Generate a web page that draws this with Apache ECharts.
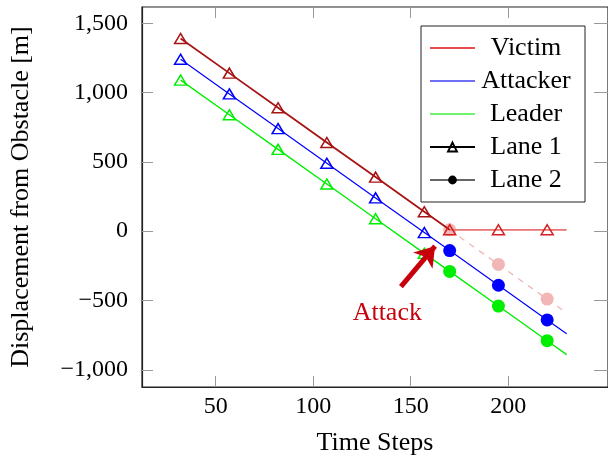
<!DOCTYPE html>
<html>
<head>
<meta charset="utf-8">
<script src="https://cdn.jsdelivr.net/npm/echarts@6/dist/echarts.min.js"></script>
<style>
  html, body { margin: 0; padding: 0; background: #fff; }
  #chart { width: 608px; height: 461px; }
</style>
</head>
<body>
<div id="chart"></div>
<script>
// time steps where the vehicles are sampled (last one is only the line end)
const timeSteps = [32, 57, 82, 107, 132, 157, 170, 195, 220, 230];
// 1 = lane 1 (triangle), 2 = lane 2 (dot), 0 = no marker
const laneMarks = [1, 1, 1, 1, 1, 1, 2, 2, 2, 0];

const victimBefore = [1390, 1140, 890, 640, 390, 140, 10];
const victimHeldSteps = [170, 195, 220, 230];
const victimHeld = [10, 10, 10, 10];
const victimExpected = [10, -240, -490, -590];
const attackerPos = [1240, 990, 740, 490, 240, -10, -140, -390, -640, -740];
const leaderPos = [1090, 840, 590, 340, 90, -160, -290, -540, -790, -890];

const xTicks = [50, 100, 150, 200];
const yTicks = [-1000, -500, 0, 500, 1000, 1500];
const attackArrow = [[145, -400], [162.5, -108]];
const attackLabelAt = [138, -592];

const FONT = '"Liberation Serif", "DejaVu Serif", serif';

function marker(lane, color) {
  if (lane === 1) {
    return { symbol: 'triangle', symbolSize: [12, 10],
      itemStyle: { color: 'transparent', borderColor: color, borderWidth: 1.5 } };
  }
  if (lane === 2) {
    return { symbol: 'circle', symbolSize: 13, itemStyle: { color: color, borderWidth: 0 } };
  }
  return { symbol: 'none' };
}

function points(steps, values, lanes, color) {
  return values.map((v, i) => Object.assign({ value: [steps[i], v] }, marker(lanes[i], color)));
}

const chart = echarts.init(document.getElementById('chart'));

const legendSeries = [
  { name: 'Victim', color: '#e01010', symbol: 'none', line: '#e01010' },
  { name: 'Attacker', color: '#4040f0', symbol: 'none', line: '#4040f0' },
  { name: 'Leader', color: '#40f040', symbol: 'none', line: '#40f040' },
  { name: 'Lane 1', color: '#000', symbol: 'triangle', line: '#000' },
  { name: 'Lane 2', color: '#000', symbol: 'circle', line: '#666' }
].map(s => ({
  name: s.name,
  type: 'line',
  data: [],
  symbol: s.symbol,
  itemStyle: s.symbol === 'triangle'
    ? { color: 'transparent', borderColor: '#000', borderWidth: 1.2 }
    : { color: s.color },
  lineStyle: { color: s.line, width: 1.3 }
}));

const lineIcon = 'path://M0,0H45V1.4H0Z';

const tickStyle = { inside: true, length: 11, lineStyle: { color: '#999' } };

chart.setOption({
  animation: false,
  backgroundColor: '#fff',
  grid: { left: 142, right: -3, top: 7, bottom: 68, show: true, borderColor: '#222', borderWidth: 1.2 },
  legend: {
    orient: 'vertical',
    left: 421,
    top: 26,
    padding: [9, 13, 9, 8],
    itemWidth: 45,
    itemHeight: 11,
    itemGap: 7,
    borderColor: '#222',
    borderWidth: 1,
    backgroundColor: '#fff',
    data: [
      { name: 'Victim', icon: lineIcon },
      { name: 'Attacker', icon: lineIcon },
      { name: 'Leader', icon: lineIcon },
      { name: 'Lane 1' },
      { name: 'Lane 2' }
    ],
    formatter: name => '{t|' + name + '}',
    textStyle: {
      rich: { t: { width: 92, align: 'center', fontSize: 26, lineHeight: 26, fontFamily: FONT, color: '#000' } }
    },
    selectedMode: false
  },
  xAxis: [{
    type: 'value', min: 12.2, max: 251.2, position: 'bottom',
    name: 'Time Steps', nameLocation: 'middle', nameGap: 43,
    nameTextStyle: { fontSize: 26, fontFamily: FONT, color: '#000' },
    axisLine: { show: true, onZero: false, lineStyle: { color: '#222', width: 1.2 } },
    axisTick: Object.assign({ customValues: xTicks }, tickStyle),
    axisLabel: { customValues: xTicks, margin: 8, fontSize: 24, fontFamily: FONT, color: '#000' },
    splitLine: { show: false }
  }, {
    type: 'value', min: 12.2, max: 251.2, position: 'top',
    axisLine: { show: false, onZero: false },
    axisTick: Object.assign({ customValues: xTicks }, tickStyle),
    axisLabel: { show: false },
    splitLine: { show: false }
  }],
  yAxis: [{
    type: 'value', min: -1124, max: 1617, position: 'left',
    name: 'Displacement from Obstacle [m]', nameLocation: 'middle', nameGap: 108,
    nameTextStyle: { fontSize: 26, fontFamily: FONT, color: '#000' },
    axisLine: { show: true, onZero: false, lineStyle: { color: '#222', width: 1.2 } },
    axisTick: Object.assign({ customValues: yTicks }, tickStyle),
    axisLabel: {
      customValues: yTicks, margin: 14, fontSize: 24, fontFamily: FONT, color: '#000',
      formatter: v => (v < 0 ? '\u2212' : '') + Math.abs(v).toLocaleString('en-US')
    },
    splitLine: { show: false }
  }, {
    type: 'value', min: -1124, max: 1617, position: 'right',
    axisLine: { show: false, onZero: false },
    axisTick: Object.assign({ customValues: yTicks }, tickStyle, { length: 14 }),
    axisLabel: { show: false },
    splitLine: { show: false }
  }],
  series: [
    {
      name: 'victimExpected', type: 'line', z: 2,
      data: points(victimHeldSteps, victimExpected, [2, 2, 2, 0], '#f2b6b6'),
      lineStyle: { color: '#f2b6b6', width: 1.3, type: [6, 6] }
    },
    {
      name: 'leader', type: 'line', z: 3,
      data: points(timeSteps, leaderPos, laneMarks, '#00ee00'),
      lineStyle: { color: '#00ee00', width: 1.4 }
    },
    {
      name: 'attacker', type: 'line', z: 3,
      data: points(timeSteps, attackerPos, laneMarks, '#0000ff'),
      lineStyle: { color: '#0000ff', width: 1.2 }
    },
    {
      name: 'victimHeld', type: 'line', z: 4,
      data: points(victimHeldSteps, victimHeld, [1, 1, 1, 0], '#d42020'),
      lineStyle: { color: '#e87474', width: 1.8 }
    },
    {
      name: 'victimBefore', type: 'line', z: 4,
      data: points(timeSteps, victimBefore, [1, 1, 1, 1, 1, 1, 0], '#a81414'),
      lineStyle: { color: '#a81414', width: 1.8 }
    },
    {
      name: 'attack', type: 'line', z: 6, data: [],
      markLine: {
        silent: true,
        symbol: ['none', 'arrow'],
        symbolSize: 19,
        label: { show: false },
        lineStyle: { color: '#c8000c', width: 5, type: 'solid' },
        itemStyle: { color: '#c8000c' },
        data: [[{ coord: attackArrow[0] }, { coord: attackArrow[1] }]]
      },
      markPoint: {
        silent: true,
        symbol: 'circle',
        symbolSize: 0,
        label: { show: true, position: 'inside', formatter: 'Attack', fontSize: 26, fontFamily: FONT, color: '#c8000c' },
        data: [{ coord: attackLabelAt }]
      }
    }
  ].concat(legendSeries)
});
</script>
</body>
</html>
